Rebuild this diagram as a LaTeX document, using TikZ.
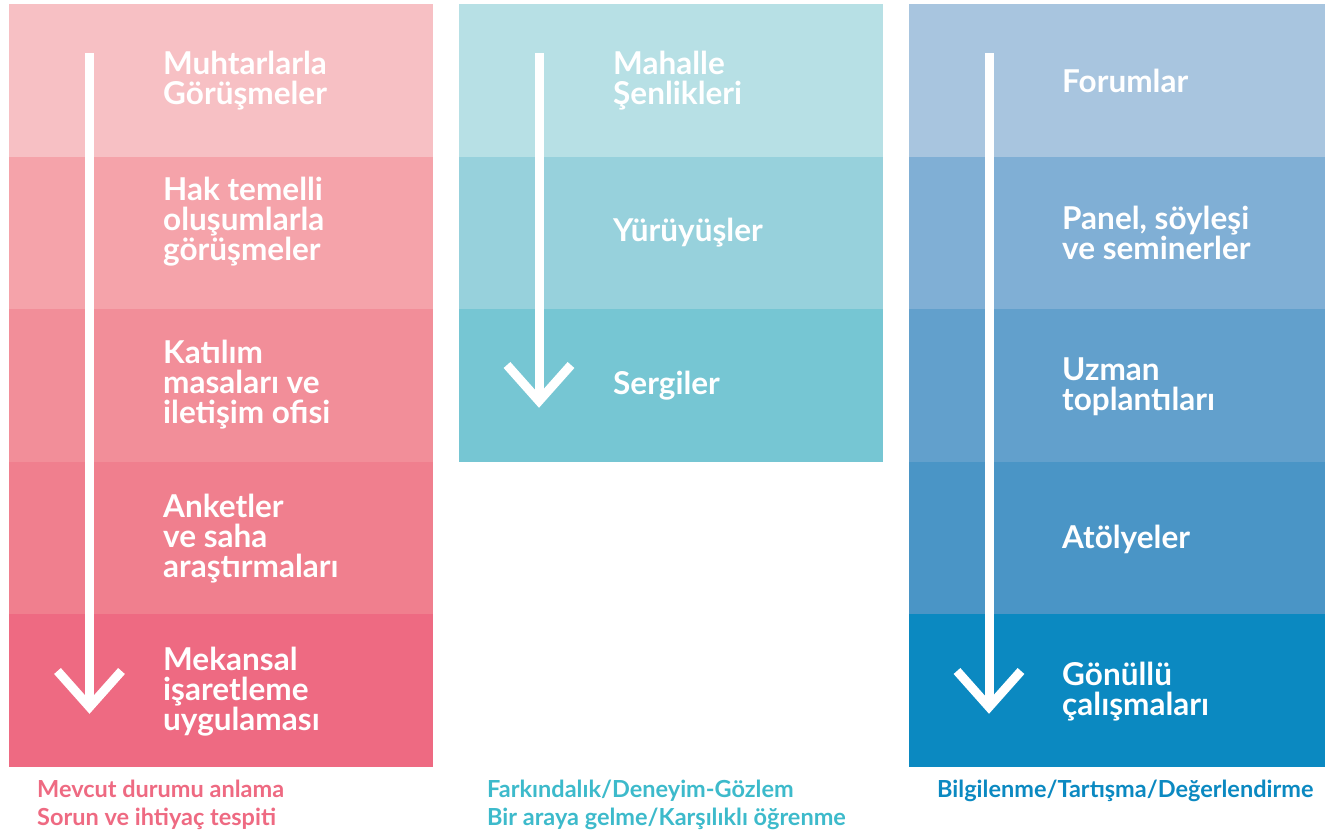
\documentclass[tikz,border=0pt]{standalone}
\usepackage{fontspec}
\setmainfont{Lato}
\usetikzlibrary{positioning}

\definecolor{pinkA}{HTML}{F7C0C4}
\definecolor{pinkB}{HTML}{F5A3AA}
\definecolor{pinkC}{HTML}{F28E99}
\definecolor{pinkD}{HTML}{F07F8E}
\definecolor{pinkE}{HTML}{EE6A82}
\definecolor{tealA}{HTML}{B7E0E5}
\definecolor{tealB}{HTML}{97D1DC}
\definecolor{tealC}{HTML}{76C6D3}
\definecolor{tealT}{HTML}{3DBACB}
\definecolor{blueA}{HTML}{A8C5DF}
\definecolor{blueB}{HTML}{80AFD5}
\definecolor{blueC}{HTML}{62A0CC}
\definecolor{blueD}{HTML}{4A95C6}
\definecolor{blueE}{HTML}{0B89C1}

\begin{document}
\begin{tikzpicture}[
    x=1pt, y=-1pt,
    cell/.style={rectangle, anchor=north west, inner sep=0pt, minimum height=153.2pt},
    item/.style={anchor=west, inner sep=0pt, align=left, text=white, font=\fontsize{31.5}{30}\selectfont\bfseries},
    caption/.style={anchor=west, inner sep=0pt, align=left, font=\fontsize{23.5}{28}\selectfont\bfseries},
    flow/.style={draw=white, line width=9pt},
    head/.style={draw=white, line width=9pt, line join=miter}
]
\useasboundingbox (0,0) rectangle (1325,835);

% Column 1
\node[cell, fill=pinkA, minimum width=424pt] (c1r1) at (9,4) {};
\node[cell, fill=pinkB, minimum width=424pt] (c1r2) at (9,156.5) {};
\node[cell, fill=pinkC, minimum width=424pt] (c1r3) at (9,309) {};
\node[cell, fill=pinkD, minimum width=424pt] (c1r4) at (9,461.5) {};
\node[cell, fill=pinkE, minimum width=424pt] (c1r5) at (9,614) {};

% Column 2
\node[cell, fill=tealA, minimum width=424pt] (c2r1) at (459,4) {};
\node[cell, fill=tealB, minimum width=424pt] (c2r2) at (459,156.5) {};
\node[cell, fill=tealC, minimum width=424pt] (c2r3) at (459,309) {};

% Column 3
\node[cell, fill=blueA, minimum width=416pt] (c3r1) at (909,4) {};
\node[cell, fill=blueB, minimum width=416pt] (c3r2) at (909,156.5) {};
\node[cell, fill=blueC, minimum width=416pt] (c3r3) at (909,309) {};
\node[cell, fill=blueD, minimum width=416pt] (c3r4) at (909,461.5) {};
\node[cell, fill=blueE, minimum width=416pt] (c3r5) at (909,614) {};

% Arrows
\coordinate (a1top) at (89.5,53);
\coordinate (a1tip) at (89.5,707);
\coordinate (a2top) at (539,53);
\coordinate (a2tip) at (539,401);
\coordinate (a3top) at (989,53);
\coordinate (a3tip) at (989,707);

\draw[flow] (a1top) -- (a1tip);
\draw[head] (a1tip) ++(-32,-36) -- (a1tip) -- ++(32,-36);
\draw[flow] (a2top) -- (a2tip);
\draw[head] (a2tip) ++(-32,-36) -- (a2tip) -- ++(32,-36);
\draw[flow] (a3top) -- (a3tip);
\draw[head] (a3tip) ++(-32,-36) -- (a3tip) -- ++(32,-36);

% Column 1 texts
\node[item] (muhtar) at (163,81) {Muhtarlarla\\Görüşmeler};
\node[item] (hak) at (163,222) {Hak temelli\\oluşumlarla\\görüşmeler};
\node[item] (katilim) at (163,385) {Katılım\\masaları ve\\iletişim ofisi};
\node[item] (anket) at (163,539) {Anketler\\ve saha\\araştırmaları};
\node[item] (mekan) at (163,692) {Mekansal\\işaretleme\\uygulaması};

% Column 2 texts
\node[item] (senlik) at (613,81) {Mahalle\\Şenlikleri};
\node[item] (yuruyus) at (613,233) {Yürüyüşler};
\node[item] (sergi) at (613,386) {Sergiler};

% Column 3 texts
\node[item] (forum) at (1062,81) {Forumlar};
\node[item] (panel) at (1062,233) {Panel, söyleşi\\ve seminerler};
\node[item] (uzman) at (1062,387) {Uzman\\toplantıları};
\node[item] (atolye) at (1062,539) {Atölyeler};
\node[item] (gonullu) at (1062,692) {Gönüllü\\çalışmaları};

% Captions
\node[caption, text=pinkE] (cap1) at (37,805) {Mevcut durumu anlama\\Sorun ve ihtiyaç tespiti};
\node[caption, text=tealT] (cap2) at (487,805) {Farkındalık/Deneyim-Gözlem\\Bir araya gelme/Karşılıklı öğrenme};
\node[caption, text=blueE] (cap3) at (937,791) {Bilgilenme/Tartışma/Değerlendirme};

\end{tikzpicture}
\end{document}
